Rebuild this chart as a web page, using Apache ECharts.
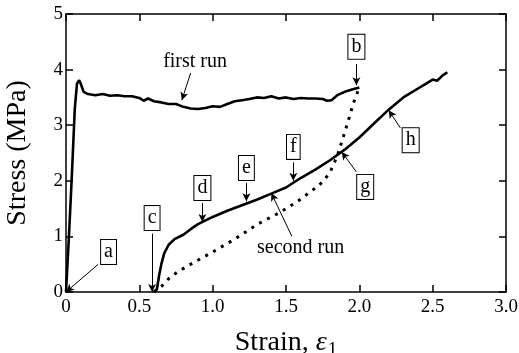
<!DOCTYPE html>
<html>
<head>
<meta charset="utf-8">
<script src="https://cdn.jsdelivr.net/npm/echarts@6/dist/echarts.min.js"></script>
<style>
  html, body { margin: 0; padding: 0; background: #fff; }
  #chart { width: 519px; height: 353px; }
  #err { position: absolute; left: 80px; top: 20px; font: 11px monospace; color: #c00; width: 420px; }
</style>
</head>
<body>
<div id="chart"></div>
<div id="err"></div>
<script>
window.onerror = function (msg, src, line, col) {
    document.getElementById('err').textContent += 'ERR ' + msg + ' @' + line + ':' + col + ' | ';
};
// stress-strain data
let firstRun = [
    [0, 0], [0.02, 1.0], [0.04, 2.1], [0.06, 3.3], [0.075, 3.75], [0.09, 3.81], [0.1, 3.75],
    [0.12, 3.6], [0.15, 3.56], [0.2, 3.54], [0.25, 3.56], [0.3, 3.53], [0.35, 3.54], [0.4, 3.52],
    [0.45, 3.52], [0.5, 3.49], [0.53, 3.44], [0.56, 3.48], [0.6, 3.43], [0.65, 3.41], [0.7, 3.38],
    [0.75, 3.38], [0.8, 3.33], [0.85, 3.3], [0.9, 3.29], [0.95, 3.31], [1.0, 3.34], [1.05, 3.33],
    [1.1, 3.38], [1.15, 3.43], [1.2, 3.45], [1.25, 3.47], [1.3, 3.5], [1.35, 3.49], [1.4, 3.52],
    [1.45, 3.48], [1.5, 3.5], [1.55, 3.47], [1.6, 3.49], [1.65, 3.48], [1.7, 3.48], [1.75, 3.47],
    [1.78, 3.44], [1.81, 3.45], [1.85, 3.54], [1.9, 3.6], [1.95, 3.64], [2.0, 3.68]
];
let secondRun = [
    [0.6, 0], [0.62, 0.05], [0.635, 0.3], [0.65, 0.5], [0.67, 0.7], [0.7, 0.85], [0.74, 0.95],
    [0.8, 1.03], [0.85, 1.13], [0.9, 1.22], [1.0, 1.35], [1.1, 1.46], [1.2, 1.56], [1.3, 1.66],
    [1.4, 1.77], [1.5, 1.88], [1.6, 2.05], [1.7, 2.2], [1.8, 2.37], [1.9, 2.56], [2.0, 2.78],
    [2.1, 3.03], [2.2, 3.28], [2.3, 3.5], [2.4, 3.66], [2.45, 3.74], [2.5, 3.82], [2.53, 3.8],
    [2.57, 3.9], [2.6, 3.95]
];
let dottedRun = [
    [0.6, 0], [0.65, 0.1], [0.7, 0.24], [0.76, 0.36], [0.85, 0.5], [1.0, 0.72], [1.15, 0.95],
    [1.3, 1.21], [1.45, 1.42], [1.52, 1.53], [1.6, 1.67], [1.7, 1.87], [1.75, 1.98], [1.8, 2.15],
    [1.85, 2.45], [1.88, 2.7], [1.92, 3.04], [1.96, 3.4], [2.0, 3.68]
];

// annotation labels: [text, labelX, labelY, arrowFromX, arrowFromY, arrowToX, arrowToY]
let boxLabels = [
    ['a', 0.29, 0.72, 0.22, 0.5, 0.0, 0.0],
    ['b', 1.98, 4.41, 1.98, 4.1, 1.98, 3.72],
    ['c', 0.587, 1.33, 0.587, 1.05, 0.587, 0.0],
    ['d', 0.93, 1.87, 0.93, 1.6, 0.93, 1.26],
    ['e', 1.23, 2.23, 1.23, 1.96, 1.23, 1.63],
    ['f', 1.55, 2.61, 1.55, 2.33, 1.55, 2.0],
    ['g', 2.04, 1.89, 1.98, 2.16, 1.88, 2.52],
    ['h', 2.35, 2.73, 2.28, 2.95, 2.2, 3.27]
];
let textLabels = [
    ['first run', 0.88, 4.14, 0.85, 3.94, 0.79, 3.45],
    ['second run', 1.6, 0.79, 1.54, 1.0, 1.4, 1.78]
];

let serif = 'Liberation Serif, Times New Roman, serif';

let arrows = boxLabels.concat(textLabels).map(function (r) {
    return [{ coord: [r[3], r[4]] }, { coord: [r[5], r[6]] }];
});
let points = boxLabels.map(function (r) {
    return {
        coord: [r[1], r[2]], value: r[0],
        label: {
            show: true, formatter: r[0], color: '#000', fontFamily: serif, fontSize: 20,
            backgroundColor: '#fff', borderColor: '#000', borderWidth: 1, padding: [2, 3, 0, 3],
            lineHeight: 22
        }
    };
}).concat(textLabels.map(function (r) {
    return {
        coord: [r[1], r[2]], value: r[0],
        label: { show: true, formatter: r[0], color: '#000', fontFamily: serif, fontSize: 20 }
    };
}));

function makeAxis(max, interval, position, extra) {
    let axis = {
        type: 'value', min: 0, max: max, interval: interval, position: position,
        axisLine: { show: true, onZero: false, lineStyle: { color: '#000', width: 1.5 } },
        axisTick: { show: true, inside: true, length: 7, lineStyle: { color: '#000', width: 1.5 } },
        splitLine: { show: false }
    };
    return Object.assign(axis, extra);
}

let option = {
    animation: false,
    grid: { left: 66, right: 13, top: 14, bottom: 61, outerBoundsMode: 'none' },
    xAxis: [
        makeAxis(3, 0.5, 'bottom', {
            name: '{n|Strain, }{e|ε}{s|1}', nameLocation: 'middle', nameGap: 33,
            nameTextStyle: {
                rich: {
                    n: { fontFamily: serif, fontSize: 28, color: '#000' },
                    e: { fontFamily: serif, fontSize: 28, fontStyle: 'italic', color: '#000' },
                    s: { fontFamily: serif, fontSize: 19, color: '#000', padding: [16, 0, 0, 1] }
                }
            },
            axisLabel: {
                color: '#000', fontFamily: serif, fontSize: 19, margin: 6,
                formatter: function (v) { return v === 0 ? '0' : v.toFixed(1); }
            }
        }),
        makeAxis(3, 0.5, 'top', { axisLabel: { show: false } })
    ],
    yAxis: [
        makeAxis(5, 1, 'left', {
            name: 'Stress (MPa)', nameLocation: 'middle', nameGap: 34,
            nameTextStyle: { fontFamily: serif, fontSize: 28, color: '#000' },
            axisLabel: { color: '#000', fontFamily: serif, fontSize: 19, margin: 3 }
        }),
        makeAxis(5, 1, 'right', { axisLabel: { show: false } })
    ],
    series: [
        {
            name: 'first run', type: 'line', data: firstRun, showSymbol: false,
            lineStyle: { color: '#000', width: 2.6 }
        },
        {
            name: 'second run', type: 'line', data: secondRun, showSymbol: false,
            xAxisIndex: 1, yAxisIndex: 1,
            lineStyle: { color: '#000', width: 2.6 }
        },
        {
            name: 'dotted', type: 'line', data: dottedRun, showSymbol: false,
            lineStyle: { color: '#000', width: 3, type: [3, 6] },
            markLine: {
                silent: true, symbol: ['none', 'arrow'], symbolSize: [6, 8],
                label: { show: false },
                lineStyle: { color: '#000', width: 1, type: 'solid' },
                data: arrows
            },
            markPoint: {
                silent: true, symbol: 'circle', symbolSize: 1,
                itemStyle: { color: 'rgba(0,0,0,0)' },
                data: points
            }
        }
    ]
};
var chart = echarts.init(document.getElementById('chart'));
try {
    chart.setOption(option);
} catch (e) {
    document.getElementById('err').textContent += 'CAUGHT ' + e.message + ' | ' + (e.stack || '').slice(0, 300);
}
</script>
</body>
</html>
